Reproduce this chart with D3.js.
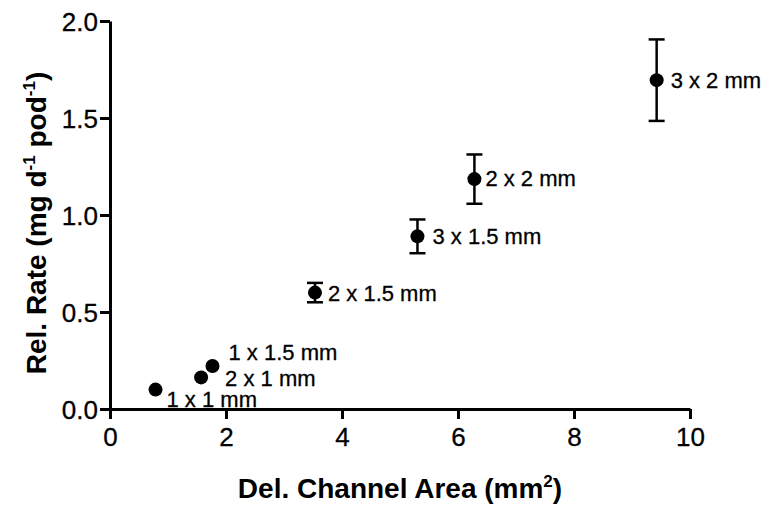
<!DOCTYPE html>
<html>
<head>
<meta charset="utf-8">
<script src="https://cdn.jsdelivr.net/npm/d3@7"></script>
<style>
  body { margin: 0; background: #fff; }
  svg text { font-family: "Liberation Sans", Arial, Helvetica, sans-serif; fill: #000; }
</style>
</head>
<body>
<div id="chart"></div>
<script>
// data
const labels = ["1 x 1 mm", "2 x 1 mm", "1 x 1.5 mm", "2 x 1.5 mm", "3 x 1.5 mm", "2 x 2 mm", "3 x 2 mm"];
const area = [0.785, 1.571, 1.767, 3.534, 5.301, 6.283, 9.425];
const rate = [0.10, 0.163, 0.222, 0.60, 0.89, 1.185, 1.695];
const rateErr = [0, 0, 0, 0.05, 0.087, 0.127, 0.21];
const xTicks = [0, 2, 4, 6, 8, 10];
const yTicks = [0, 0.5, 1.0, 1.5, 2.0];

// label placement relative to the dot (px)
const labelOffset = [[11, 17], [24, 9], [16, -6], [13, 8], [15, 8], [11, 7], [14, 8]];

const W = 769, H = 508;
const margin = { top: 21, right: 79, bottom: 99, left: 110 };
const width = W - margin.left - margin.right;
const height = H - margin.top - margin.bottom;

const svg = d3.select("#chart").append("svg")
  .attr("width", W).attr("height", H);

const g = svg.append("g")
  .attr("transform", `translate(${margin.left},${margin.top})`);

const x = d3.scaleLinear().domain([0, 10]).range([0, width]);
const y = d3.scaleLinear().domain([0, 2]).range([height, 0]);

// axes
const xAxis = g.append("g")
  .attr("transform", `translate(0,${height})`)
  .call(d3.axisBottom(x).tickValues(xTicks).tickSize(10).tickSizeOuter(0).tickFormat(d3.format("d")));

const yAxis = g.append("g")
  .call(d3.axisLeft(y).tickValues(yTicks).tickSize(10).tickSizeOuter(0).tickFormat(d3.format(".1f")));

[xAxis, yAxis].forEach(a => {
  a.select(".domain").attr("stroke", "#000").attr("stroke-width", 3);
  a.selectAll(".tick line").attr("stroke", "#000").attr("stroke-width", 3);
  a.selectAll(".tick text").style("font-size", "26px").attr("fill", "#000")
    .attr("stroke", "#000").attr("stroke-width", 0.3);
});
xAxis.selectAll(".tick text").attr("dy", "0.95em").attr("y", 12);
yAxis.selectAll(".tick text").attr("x", -12).attr("dy", "0.36em");

// error bars
const points = labels.map((l, i) => ({ label: l, x: area[i], y: rate[i], e: rateErr[i], off: labelOffset[i] }));
const withErr = points.filter(d => d.e > 0);

const eb = g.append("g").attr("stroke", "#000").attr("stroke-width", 2.5);
eb.selectAll(".ebv").data(withErr).join("line")
  .attr("x1", d => x(d.x)).attr("x2", d => x(d.x))
  .attr("y1", d => y(d.y - d.e)).attr("y2", d => y(d.y + d.e));
eb.selectAll(".ebt").data(withErr).join("line")
  .attr("x1", d => x(d.x) - 8).attr("x2", d => x(d.x) + 8)
  .attr("y1", d => y(d.y + d.e)).attr("y2", d => y(d.y + d.e));
eb.selectAll(".ebb").data(withErr).join("line")
  .attr("x1", d => x(d.x) - 8).attr("x2", d => x(d.x) + 8)
  .attr("y1", d => y(d.y - d.e)).attr("y2", d => y(d.y - d.e));

// dots
g.selectAll(".dot").data(points).join("circle")
  .attr("class", "dot")
  .attr("cx", d => x(d.x)).attr("cy", d => y(d.y))
  .attr("r", 7).attr("fill", "#000");

// point labels
g.selectAll(".lbl").data(points).join("text")
  .attr("class", "lbl")
  .attr("x", d => x(d.x) + d.off[0])
  .attr("y", d => y(d.y) + d.off[1])
  .style("font-size", "22px")
  .attr("stroke", "#000").attr("stroke-width", 0.3)
  .text(d => d.label);

// axis titles
const xt = svg.append("text")
  .attr("x", margin.left + width / 2).attr("y", 498)
  .attr("text-anchor", "middle")
  .style("font-size", "28px").style("font-weight", "bold");
xt.append("tspan").text("Del. Channel Area (mm");
xt.append("tspan").text("2").style("font-size", "17px").attr("dy", -11);
xt.append("tspan").text(")").attr("dy", 11);

const yt = svg.append("text")
  .attr("transform", `translate(46,${margin.top + height / 2 + 8}) rotate(-90)`)
  .attr("text-anchor", "middle")
  .style("font-size", "28px").style("font-weight", "bold");
yt.append("tspan").text("Rel. Rate (mg d");
yt.append("tspan").text("-1").style("font-size", "17px").attr("dy", -11);
yt.append("tspan").text(" pod").attr("dy", 11);
yt.append("tspan").text("-1").style("font-size", "17px").attr("dy", -11);
yt.append("tspan").text(")").attr("dy", 11);
</script>
</body>
</html>
